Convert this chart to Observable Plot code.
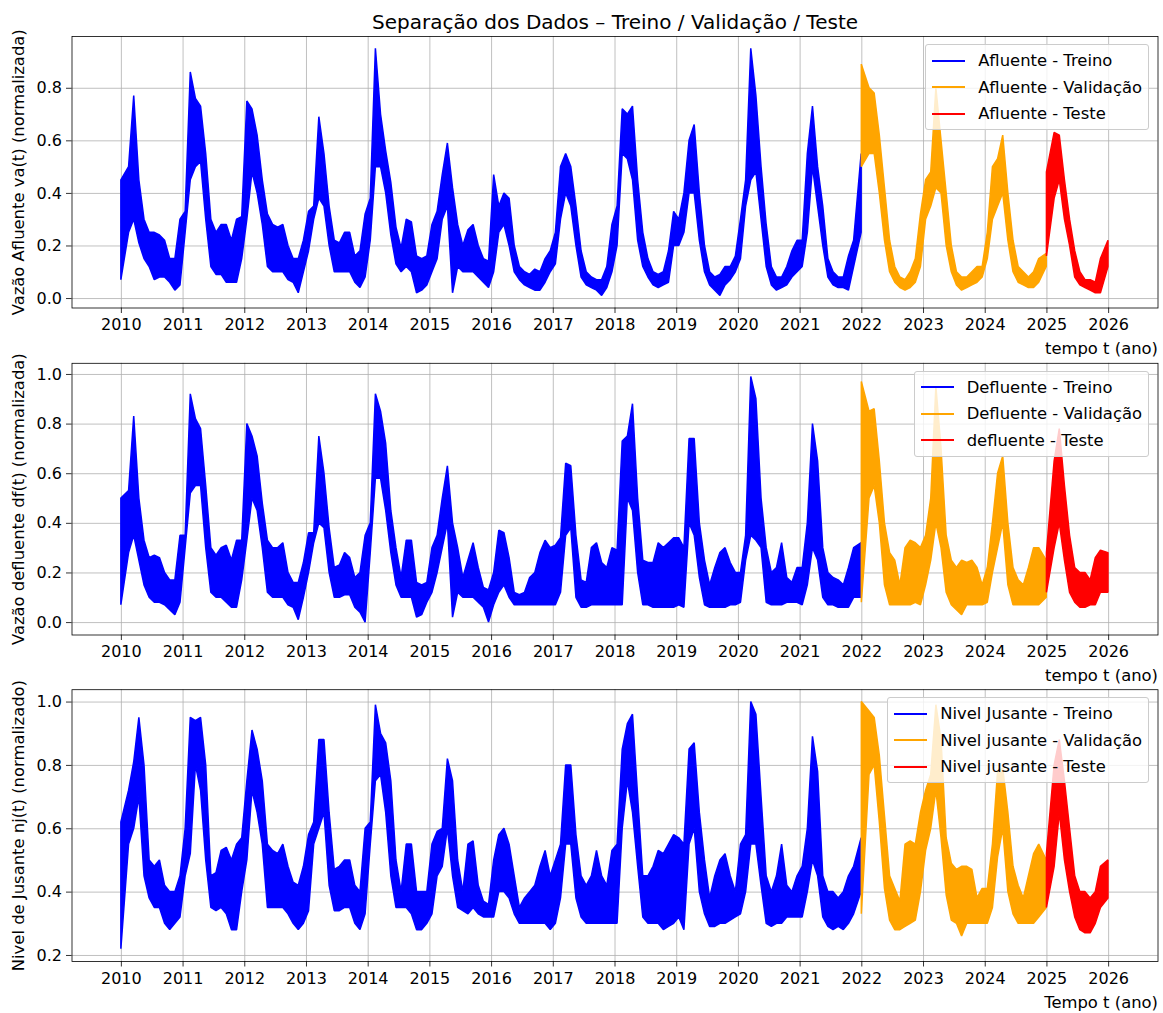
<!DOCTYPE html>
<html><head><meta charset="utf-8">
<script src="https://cdn.jsdelivr.net/npm/d3@7"></script>
<script src="https://cdn.jsdelivr.net/npm/@observablehq/plot@0.6"></script>
<style>
body{margin:0;background:#fff;}
#fig{position:relative;width:1163px;height:1013px;font-family:"DejaVu Sans",sans-serif;overflow:hidden;}
.panel{position:absolute;left:0;}
.legend{position:absolute;right:14px;padding:6px 6px 6px 6px;border:1px solid #cccccc;border-radius:3px;background:rgba(255,255,255,0.8);font-size:16.4px;color:#000;}
.legend .row{display:flex;align-items:center;height:19px;margin-bottom:7.5px;white-space:nowrap;}
.legend .row:last-child{margin-bottom:0;}
.legend .h{width:33px;height:0;border-top:2px solid;margin-right:13px;}
</style></head><body><div id="fig"></div>
<script>
// ---------- dados (mín./máx. mensal da banda) ----------
const anosTicks = [2010,2011,2012,2013,2014,2015,2016,2017,2018,2019,2020,2021,2022,2023,2024,2025,2026];
const inicioAno = 2010;
const fimTreino = 2022;
const fimValidacao = 2025;
const yTicksAfluente = [0.0,0.2,0.4,0.6,0.8];
const yTicksDefluente = [0.0,0.2,0.4,0.6,0.8,1.0];
const yTicksNivel = [0.2,0.4,0.6,0.8,1.0];

const afluenteMin = [
0.07,0.25,0.30,0.21,0.15,0.12,0.07,0.08,0.08,0.06,0.03,0.05,
0.25,0.45,0.50,0.52,0.30,0.12,0.09,0.09,0.06,0.06,0.06,0.15,
0.30,0.48,0.40,0.28,0.12,0.10,0.10,0.10,0.07,0.06,0.02,0.10,
0.18,0.30,0.38,0.35,0.20,0.10,0.10,0.10,0.10,0.06,0.04,0.08,
0.22,0.50,0.50,0.40,0.24,0.13,0.10,0.12,0.10,0.02,0.03,0.05,
0.10,0.15,0.30,0.35,0.02,0.12,0.10,0.10,0.10,0.08,0.06,0.04,
0.10,0.25,0.28,0.20,0.10,0.07,0.05,0.04,0.03,0.03,0.06,0.10,
0.13,0.30,0.40,0.35,0.20,0.08,0.05,0.04,0.03,0.01,0.04,0.10,
0.20,0.55,0.53,0.45,0.22,0.12,0.08,0.05,0.04,0.05,0.06,0.20,
0.20,0.25,0.40,0.40,0.22,0.10,0.05,0.03,0.01,0.05,0.07,0.10,
0.15,0.35,0.45,0.48,0.30,0.12,0.05,0.03,0.04,0.05,0.08,0.10,
0.12,0.25,0.50,0.35,0.20,0.08,0.05,0.04,0.04,0.03,0.12,0.25,
0.50,0.55,0.55,0.40,0.22,0.10,0.06,0.04,0.03,0.04,0.06,0.12,
0.30,0.35,0.42,0.40,0.20,0.10,0.05,0.03,0.04,0.05,0.06,0.08,
0.15,0.30,0.35,0.40,0.22,0.10,0.06,0.05,0.04,0.04,0.06,0.12,
0.16,0.38,0.45,0.30,0.20,0.08,0.05,0.04,0.03,0.02,0.02,0.12];
const afluenteMax = [
0.45,0.50,0.77,0.45,0.30,0.25,0.25,0.24,0.22,0.15,0.15,0.30,
0.33,0.86,0.76,0.73,0.55,0.30,0.25,0.28,0.28,0.22,0.30,0.31,
0.75,0.72,0.62,0.45,0.32,0.28,0.27,0.28,0.20,0.15,0.15,0.22,
0.33,0.35,0.69,0.55,0.35,0.22,0.21,0.25,0.25,0.16,0.18,0.32,
0.38,0.95,0.70,0.56,0.44,0.27,0.19,0.30,0.29,0.16,0.15,0.16,
0.28,0.33,0.47,0.59,0.42,0.28,0.20,0.26,0.28,0.20,0.15,0.14,
0.47,0.35,0.40,0.38,0.20,0.12,0.10,0.09,0.11,0.10,0.15,0.18,
0.25,0.50,0.55,0.50,0.35,0.18,0.10,0.08,0.07,0.07,0.12,0.28,
0.35,0.72,0.70,0.73,0.45,0.25,0.15,0.10,0.09,0.10,0.18,0.33,
0.30,0.40,0.60,0.66,0.40,0.20,0.10,0.08,0.09,0.12,0.12,0.16,
0.30,0.45,0.95,0.77,0.50,0.28,0.12,0.08,0.08,0.12,0.18,0.22,
0.22,0.55,0.73,0.50,0.35,0.15,0.10,0.08,0.08,0.16,0.22,0.55,
0.89,0.80,0.78,0.62,0.42,0.22,0.12,0.08,0.07,0.10,0.15,0.32,
0.45,0.48,0.80,0.60,0.40,0.20,0.10,0.08,0.08,0.10,0.12,0.12,
0.25,0.50,0.53,0.62,0.40,0.22,0.12,0.10,0.08,0.10,0.15,0.17,
0.48,0.63,0.62,0.45,0.30,0.18,0.10,0.07,0.07,0.06,0.15,0.22];

const defluenteMin = [
0.07,0.28,0.35,0.25,0.15,0.10,0.08,0.08,0.07,0.05,0.03,0.08,
0.30,0.52,0.55,0.55,0.30,0.12,0.10,0.10,0.08,0.06,0.06,0.17,
0.33,0.50,0.45,0.30,0.12,0.10,0.10,0.10,0.07,0.06,0.01,0.10,
0.20,0.32,0.40,0.38,0.20,0.10,0.10,0.11,0.11,0.06,0.04,0.00,
0.28,0.58,0.58,0.45,0.28,0.15,0.10,0.10,0.10,0.02,0.03,0.08,
0.12,0.20,0.30,0.40,0.02,0.12,0.10,0.10,0.10,0.08,0.06,0.00,
0.07,0.12,0.15,0.10,0.07,0.07,0.07,0.07,0.07,0.07,0.07,0.07,
0.07,0.12,0.35,0.38,0.10,0.06,0.06,0.07,0.07,0.07,0.07,0.07,
0.07,0.07,0.50,0.45,0.20,0.07,0.07,0.06,0.06,0.06,0.06,0.06,
0.07,0.06,0.40,0.35,0.18,0.07,0.06,0.06,0.06,0.06,0.07,0.07,
0.08,0.25,0.35,0.33,0.30,0.08,0.07,0.07,0.07,0.08,0.08,0.08,
0.07,0.15,0.30,0.25,0.10,0.07,0.07,0.06,0.06,0.06,0.10,0.10,
0.08,0.50,0.55,0.40,0.15,0.07,0.07,0.07,0.07,0.07,0.08,0.07,
0.15,0.25,0.40,0.30,0.12,0.07,0.05,0.03,0.07,0.07,0.07,0.07,
0.08,0.20,0.30,0.40,0.15,0.07,0.07,0.07,0.07,0.07,0.07,0.10,
0.12,0.30,0.40,0.25,0.12,0.08,0.06,0.06,0.07,0.07,0.12,0.12];
const defluenteMax = [
0.50,0.53,0.83,0.50,0.33,0.26,0.27,0.26,0.20,0.17,0.17,0.35,
0.35,0.92,0.82,0.78,0.55,0.30,0.27,0.30,0.31,0.25,0.33,0.33,
0.80,0.75,0.67,0.48,0.33,0.30,0.30,0.32,0.20,0.16,0.16,0.24,
0.36,0.36,0.75,0.60,0.38,0.22,0.23,0.28,0.26,0.18,0.20,0.35,
0.40,0.92,0.85,0.72,0.45,0.30,0.18,0.33,0.33,0.16,0.15,0.16,
0.30,0.35,0.50,0.63,0.40,0.30,0.18,0.25,0.32,0.22,0.14,0.13,
0.20,0.37,0.36,0.26,0.12,0.11,0.12,0.18,0.20,0.28,0.33,0.30,
0.31,0.34,0.64,0.63,0.35,0.17,0.16,0.30,0.32,0.24,0.22,0.30,
0.29,0.73,0.75,0.88,0.50,0.25,0.24,0.24,0.32,0.30,0.32,0.34,
0.34,0.30,0.74,0.74,0.40,0.25,0.15,0.22,0.28,0.30,0.24,0.20,
0.20,0.35,0.99,0.90,0.50,0.30,0.20,0.22,0.32,0.18,0.16,0.22,
0.22,0.40,0.80,0.65,0.30,0.20,0.18,0.17,0.15,0.22,0.30,0.32,
0.97,0.85,0.86,0.65,0.40,0.28,0.25,0.15,0.30,0.33,0.32,0.30,
0.35,0.50,0.95,0.70,0.35,0.25,0.22,0.25,0.24,0.25,0.22,0.15,
0.22,0.40,0.60,0.67,0.40,0.22,0.17,0.15,0.22,0.30,0.30,0.25,
0.28,0.65,0.78,0.55,0.35,0.22,0.20,0.20,0.17,0.26,0.29,0.28];

const nivelMin = [
0.22,0.55,0.60,0.70,0.45,0.38,0.35,0.35,0.30,0.28,0.30,0.32,
0.45,0.52,0.80,0.72,0.50,0.35,0.34,0.35,0.33,0.28,0.28,0.40,
0.50,0.72,0.65,0.55,0.35,0.35,0.35,0.35,0.33,0.30,0.28,0.30,
0.34,0.55,0.60,0.65,0.42,0.34,0.34,0.35,0.35,0.30,0.28,0.33,
0.55,0.75,0.77,0.65,0.45,0.35,0.35,0.35,0.33,0.28,0.28,0.30,
0.33,0.45,0.48,0.60,0.45,0.35,0.34,0.33,0.35,0.33,0.32,0.32,
0.32,0.40,0.40,0.38,0.33,0.30,0.30,0.30,0.30,0.30,0.30,0.28,
0.30,0.38,0.55,0.55,0.38,0.32,0.30,0.30,0.30,0.30,0.30,0.30,
0.30,0.60,0.75,0.65,0.48,0.32,0.30,0.30,0.30,0.28,0.29,0.30,
0.32,0.28,0.55,0.60,0.40,0.33,0.29,0.29,0.30,0.30,0.31,0.32,
0.33,0.40,0.55,0.55,0.42,0.30,0.29,0.30,0.30,0.32,0.32,0.32,
0.32,0.40,0.50,0.45,0.32,0.29,0.28,0.29,0.28,0.30,0.33,0.40,
0.33,0.77,0.80,0.62,0.41,0.31,0.28,0.28,0.29,0.30,0.31,0.40,
0.53,0.60,0.72,0.57,0.39,0.31,0.30,0.26,0.30,0.30,0.30,0.30,
0.30,0.35,0.51,0.60,0.40,0.33,0.30,0.30,0.30,0.30,0.32,0.35,
0.35,0.48,0.65,0.50,0.40,0.32,0.28,0.27,0.27,0.30,0.35,0.38];
const nivelMax = [
0.62,0.72,0.81,0.95,0.80,0.50,0.48,0.50,0.42,0.40,0.40,0.45,
0.60,0.95,0.94,0.95,0.80,0.45,0.46,0.53,0.54,0.50,0.55,0.57,
0.75,0.91,0.85,0.75,0.55,0.53,0.52,0.55,0.48,0.43,0.42,0.48,
0.58,0.62,0.88,0.88,0.65,0.47,0.48,0.50,0.50,0.42,0.40,0.60,
0.62,0.99,0.90,0.87,0.75,0.50,0.40,0.55,0.55,0.40,0.40,0.40,
0.55,0.59,0.60,0.82,0.75,0.50,0.40,0.55,0.56,0.42,0.37,0.36,
0.50,0.58,0.60,0.55,0.45,0.35,0.38,0.40,0.42,0.48,0.53,0.45,
0.50,0.55,0.80,0.80,0.58,0.45,0.42,0.45,0.53,0.45,0.42,0.53,
0.55,0.85,0.93,0.96,0.70,0.45,0.45,0.48,0.53,0.52,0.55,0.58,
0.57,0.55,0.85,0.87,0.65,0.50,0.38,0.45,0.50,0.52,0.45,0.40,
0.55,0.58,1.00,0.96,0.70,0.45,0.40,0.45,0.55,0.42,0.40,0.45,
0.48,0.60,0.89,0.78,0.45,0.40,0.40,0.38,0.40,0.45,0.48,0.57,
1.00,0.97,0.95,0.83,0.64,0.45,0.41,0.37,0.55,0.56,0.55,0.65,
0.72,0.77,0.99,0.88,0.57,0.49,0.47,0.48,0.48,0.47,0.38,0.41,
0.41,0.55,0.78,0.79,0.65,0.48,0.42,0.38,0.45,0.52,0.55,0.50,
0.52,0.80,0.88,0.75,0.60,0.45,0.40,0.40,0.38,0.40,0.48,0.50];

const cores = ["blue", "orange", "red"];
const titulo = "Separação dos Dados – Treino / Validação / Teste";

// ---------- construção das séries (tempo em anos decimais) ----------
// cada mês: banda entre o mínimo e o máximo diário lidos; o primeiro e o
// último mês de cada trecho começam/terminam na data inicial/final do trecho
function serie(minimos, maximos) {
  const linhas = minimos.map((v, i) => {
    const ano = inicioAno + Math.floor(i / 12), mes = i % 12;
    const inicio = ano + mes / 12, fim = ano + (mes + 1) / 12;
    const seg = inicio < fimTreino ? 0 : inicio < fimValidacao ? 1 : 2;
    return {inicio, fim, t: (inicio + fim) / 2, lo: minimos[i], hi: maximos[i], seg};
  });
  linhas.forEach((r, i) => {
    if (i === 0 || linhas[i - 1].seg !== r.seg) r.t = r.inicio;
    if (i === linhas.length - 1 || linhas[i + 1].seg !== r.seg) r.t = r.fim - 1 / 365;
  });
  return linhas;
}

const FS = 16.4;
function painel(cfg) {
  const dados = serie(cfg.min, cfg.max);
  const marks = [
    Plot.gridX(anosTicks, {stroke: "#b0b0b0", strokeOpacity: 1, strokeWidth: 0.8}),
    Plot.gridY(cfg.yTicks, {stroke: "#b0b0b0", strokeOpacity: 1, strokeWidth: 0.8}),
  ];
  [0, 1, 2].forEach(s => marks.push(
    Plot.areaY(dados.filter(d => d.seg === s), {x: "t", y1: "lo", y2: "hi", fill: cores[s], fillOpacity: 1, stroke: cores[s], strokeWidth: 1.5, strokeLinejoin: "miter"})
  ));
  marks.push(
    Plot.frame({stroke: "black", strokeWidth: 0.8}),
    Plot.axisX(anosTicks, {anchor: "bottom", tickSize: 5.5, tickPadding: 5.5, tickFormat: d => String(d), fontSize: 16, strokeWidth: 0.8, label: null}),
    Plot.axisY(cfg.yTicks, {anchor: "left", tickSize: 5.5, tickPadding: 4.5, tickFormat: d3.format(".1f"), fontSize: 16, strokeWidth: 0.8, label: null}),
    Plot.text([cfg.yLabel], {frameAnchor: "left", dx: -53, rotate: -90, fontSize: FS, textAnchor: "middle", lineAnchor: "middle"}),
    Plot.text([cfg.xLabel], {frameAnchor: "bottom-right", dy: 41, textAnchor: "end", lineAnchor: "middle", fontSize: FS})
  );
  if (cfg.title) marks.push(Plot.text([cfg.title], {frameAnchor: "top", dy: -14, textAnchor: "middle", lineAnchor: "middle", fontSize: 20}));
  return Plot.plot({
    width: 1163, height: cfg.height,
    marginTop: cfg.marginTop, marginBottom: cfg.marginBottom, marginLeft: 71.5, marginRight: 5.5,
    style: {fontFamily: "DejaVu Sans", fontSize: "16px", color: "black", background: "transparent", overflow: "visible"},
    x: {type: "linear", domain: [2009.2, 2026.8]},
    y: {type: "linear", domain: cfg.yDomain},
    marks
  });
}

const fig = document.getElementById("fig");
const paineis = [
  {top: 0, height: 355, marginTop: 36, marginBottom: 47.5, min: afluenteMin, max: afluenteMax,
   yDomain: [-0.036, 0.997], yTicks: yTicksAfluente, yLabel: "Vazão Afluente va(t) (normalizada)",
   xLabel: "tempo t (ano)", title: titulo,
   legenda: ["Afluente - Treino", "Afluente - Validação", "Afluente - Teste"]},
  {top: 355, height: 327, marginTop: 7.8, marginBottom: 47.5, min: defluenteMin, max: defluenteMax,
   yDomain: [-0.05, 1.045], yTicks: yTicksDefluente, yLabel: "Vazão defluente df(t) (normalizada)",
   xLabel: "tempo t (ano)",
   legenda: ["Defluente - Treino", "Defluente - Validação", "defluente - Teste"]},
  {top: 682, height: 331, marginTop: 7.2, marginBottom: 52, min: nivelMin, max: nivelMax,
   yDomain: [0.181, 1.039], yTicks: yTicksNivel, yLabel: "Nivel de Jusante nj(t) (normalizado)",
   xLabel: "Tempo t (ano)",
   legenda: ["Nivel Jusante - Treino", "Nivel jusante - Validação", "Nivel jusante - Teste"]}
];
paineis.forEach(cfg => {
  const svg = painel(cfg);
  svg.classList.add("panel");
  svg.style.top = cfg.top + "px";
  fig.appendChild(svg);
  const leg = document.createElement("div");
  leg.className = "legend";
  leg.style.top = (cfg.top + cfg.marginTop + 8) + "px";
  cfg.legenda.forEach((txt, i) => {
    const row = document.createElement("div");
    row.className = "row";
    const h = document.createElement("span");
    h.className = "h";
    h.style.borderTopColor = cores[i];
    row.appendChild(h);
    row.appendChild(document.createTextNode(txt));
    leg.appendChild(row);
  });
  fig.appendChild(leg);
});
</script>
</body></html>
